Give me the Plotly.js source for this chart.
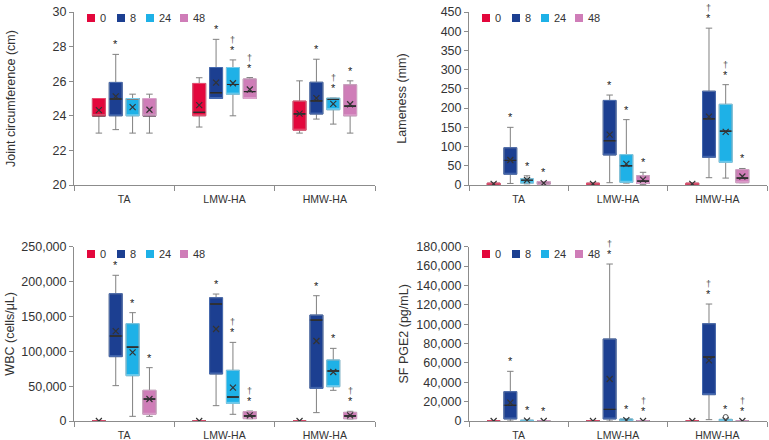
<!DOCTYPE html>
<html>
<head>
<meta charset="utf-8">
<script src="https://cdn.plot.ly/plotly-3.0.1.min.js"></script>
<style>
  html, body { margin: 0; padding: 0; background: #fff; }
  #chart { width: 769px; height: 440px; }
</style>
</head>
<body>
<div id="chart"></div>
<script>
// Categorías y grupos (horas)
const cats = ["TA", "LMW-HA", "HMW-HA"];
const times = ["0", "8", "24", "48"];
const timeColors = ["#E3073C", "#1C3F91", "#1EB1E7", "#CF7DB8"];
const edgeColors = ["#EC4A6E", "#4468B0", "#74CFF0", "#DDA0CC"];

// Filas: 0, 8, 24, 48 h ; columnas: TA, LMW-HA, HMW-HA
// Joint circumference (cm)
const jointLo = [[23, 23.35, 23], [23.2, 25, 23.81], [23, 24, 23.52], [23, 25, 23]];
const jointQ1 = [[24, 24, 23.17], [24, 25, 24.1], [24, 25.25, 24.35], [24, 25, 24]];
const jointMed = [[24, 24.2, 24.11], [24.97, 25.33, 24.86], [25, 25.81, 24.96], [24, 25.4, 24.56]];
const jointQ3 = [[25, 25.87, 24.85], [25.93, 26.79, 25.94], [25, 26.79, 25.02], [25, 26.13, 25.79]];
const jointHi = [[25, 26.2, 26.02], [27.55, 28.42, 27.27], [25.25, 27.23, 25.02], [25.25, 26.21, 26.02]];
const jointMean = [[24.33, 24.62, 24.13], [25.12, 25.92, 25.02], [24.5, 25.88, 24.69], [24.35, 25.52, 24.67]];
const jointSig = [["", "", ""], ["*", "*", "*"], ["", "†*", "†*"], ["", "†*", "*"]];

// Lameness (mm)
const lameLo = [[0, 0, 0], [4, 6, 19], [3, 5, 18], [0, 1, 6]];
const lameQ1 = [[0, 0, 0], [28, 78, 72], [5, 7, 59], [2, 4, 6]];
const lameMed = [[1, 1, 1], [64, 115, 172], [13, 50, 140], [4, 10, 18]];
const lameQ3 = [[5, 5, 5], [97, 220, 244], [16, 79, 210], [9, 24, 40]];
const lameHi = [[5, 5, 5], [150, 234, 408], [24, 170, 261], [9, 33, 43]];
const lameMean = [[3, 3, 3], [65, 131, 178], [13, 55, 138], [5, 14, 22]];
const lameSig = [["", "", ""], ["*", "*", "†*"], ["*", "*", "†*"], ["*", "*", "*"]];

// WBC (cells/μL)
const wbcLo = [[0, 0, 0], [50700, 22000, 12000], [6700, 9600, 44000], [6700, 3300, 2900]];
const wbcQ1 = [[0, 0, 0], [92300, 67400, 46800], [65000, 25300, 49200], [9600, 3400, 3300]];
const wbcMed = [[0, 0, 0], [121900, 167800, 144800], [106000, 34400, 71700], [31500, 7200, 7200]];
const wbcQ3 = [[0, 0, 0], [182600, 176900, 152000], [139600, 72700, 87500], [44000, 13400, 12400]];
const wbcHi = [[0, 0, 0], [209000, 182100, 179700], [155400, 112800, 104200], [76500, 14300, 13900]];
const wbcMean = [[0, 0, 0], [129000, 132000, 114700], [98500, 47800, 70300], [31500, 8100, 8100]];
const wbcSig = [["", "", ""], ["*", "*", "*"], ["*", "†*", "*"], ["*", "†*", "†*"]];

// SF PGE2 (pg/mL)
const pgeLo = [[0, 0, 0], [0, 0, 1400], [0, 0, 0], [0, 0, 0]];
const pgeQ1 = [[0, 0, 0], [2100, 2100, 27200], [0, 300, 300], [0, 0, 0]];
const pgeMed = [[0, 0, 0], [16200, 12000, 66100], [300, 1200, 1000], [0, 0, 0]];
const pgeQ3 = [[0, 0, 0], [30300, 84700, 100500], [900, 2100, 1700], [0, 0, 0]];
const pgeHi = [[0, 0, 0], [51300, 162100, 120800], [900, 2100, 1700], [0, 0, 0]];
const pgeMean = [[0, 0, 0], [18900, 43400, 62600], [400, 900, 800], [0, 0, 0]];
const pgeOutlier = [[null, null, null], [null, null, null], [null, null, 4100], [null, null, null]];
const pgeSig = [["", "", ""], ["*", "†*", "†*"], ["*", "*", "*"], ["*", "†*", "†*"]];

const groupStep = 0.168;
const boxWidth = 0.13;
const axisColor = "#8c8c8c";
const textColor = "#333";
const fontFam = "Liberation Sans, Arial, sans-serif";
const legendOffsets = [13, 43, 72, 106]; // px desde el eje y

const data = [];
const annotations = [];
const shapes = [];

function addPanel(n, lo, q1, med, q3, hi, mean, sig, legendY, outliers) {
  const xa = n === 1 ? "x" : "x" + n;
  const ya = n === 1 ? "y" : "y" + n;
  const base = { type: "box", xaxis: xa, yaxis: ya, width: boxWidth, showlegend: false, hoverinfo: "skip" };

  times.forEach((t, g) => {
    const xpos = cats.map((c, i) => i + (g - 1.5) * groupStep);

    // Caja con bigotes grises
    data.push(Object.assign({}, base, {
      x: xpos, q1: q1[g], median: med[g], q3: q3[g],
      lowerfence: lo[g], upperfence: hi[g],
      whiskerwidth: 0.5,
      fillcolor: timeColors[g],
      line: { color: "#808080", width: 1 },
    }));
    // Mediana oscura
    data.push(Object.assign({}, base, {
      x: xpos, q1: med[g], median: med[g], q3: med[g],
      lowerfence: med[g], upperfence: med[g],
      whiskerwidth: 0,
      fillcolor: "rgba(0,0,0,0)",
      line: { color: "#2b2b2b", width: 1 },
    }));
    // Borde de la caja
    data.push(Object.assign({}, base, {
      x: xpos, q1: q1[g], median: q1[g], q3: q3[g],
      lowerfence: q1[g], upperfence: q3[g],
      whiskerwidth: 0,
      fillcolor: "rgba(0,0,0,0)",
      line: { color: edgeColors[g], width: 1 },
    }));

    // Media (x)
    data.push({
      type: "scatter",
      mode: "markers",
      xaxis: xa,
      yaxis: ya,
      x: xpos,
      y: mean[g],
      marker: {
        symbol: "x-thin-open",
        size: 6,
        color: textColor,
        line: { color: textColor, width: 1.2 },
      },
      showlegend: false,
      hoverinfo: "skip",
    });

    // Valores atípicos
    if (outliers) {
      data.push({
        type: "scatter",
        mode: "markers",
        xaxis: xa,
        yaxis: ya,
        x: xpos,
        y: outliers[g],
        marker: { symbol: "circle-open", size: 5, color: "#555", line: { width: 1 } },
        showlegend: false,
        hoverinfo: "skip",
      });
    }

    // Leyenda
    shapes.push({
      type: "rect",
      xref: xa + " domain",
      yref: "paper",
      xsizemode: "pixel",
      ysizemode: "pixel",
      xanchor: 0,
      yanchor: legendY,
      x0: legendOffsets[g],
      x1: legendOffsets[g] + 8,
      y0: -4,
      y1: 4,
      fillcolor: timeColors[g],
      line: { width: 0 },
    });
    annotations.push({
      xref: xa + " domain",
      yref: "paper",
      x: 0,
      y: legendY,
      xshift: legendOffsets[g] + 11,
      xanchor: "left",
      yanchor: "middle",
      text: t,
      showarrow: false,
      font: { size: 11, color: textColor, family: fontFam },
    });

    // Marcas de significancia
    sig[g].forEach((s, i) => {
      if (!s) return;
      const top = Math.max(hi[g][i], q3[g][i]);
      annotations.push({
        xref: xa,
        yref: ya,
        x: xpos[i],
        y: top,
        text: "*",
        showarrow: false,
        yanchor: "bottom",
        yshift: 3,
        borderpad: 0,
        font: { size: 11, color: "#222", family: fontFam },
      });
      if (s.indexOf("†") >= 0) {
        annotations.push({
          xref: xa,
          yref: ya,
          x: xpos[i],
          y: top,
          text: "†",
          showarrow: false,
          yanchor: "bottom",
          yshift: 14,
          borderpad: 0,
          font: { size: 9, color: "#555", family: fontFam },
        });
      }
    });
  });
}

addPanel(1, jointLo, jointQ1, jointMed, jointQ3, jointHi, jointMean, jointSig, 1 - 18 / 440);
addPanel(2, lameLo, lameQ1, lameMed, lameQ3, lameHi, lameMean, lameSig, 1 - 18 / 440);
addPanel(3, wbcLo, wbcQ1, wbcMed, wbcQ3, wbcHi, wbcMean, wbcSig, 1 - 254 / 440);
addPanel(4, pgeLo, pgeQ1, pgeMed, pgeQ3, pgeHi, pgeMean, pgeSig, 1 - 254 / 440, pgeOutlier);

function xAxis(domain, anchor) {
  return {
    domain: domain,
    anchor: anchor,
    range: [-0.5, 2.5],
    tickmode: "array",
    tickvals: [0, 1, 2],
    ticktext: cats,
    ticks: "",
    ticklabelstandoff: 4,
    tickfont: { size: 10.5, color: textColor, family: fontFam },
    minor: {
      tickmode: "array",
      tickvals: [-0.5, 0.5, 1.5, 2.5],
      ticks: "outside",
      ticklen: 5,
      tickcolor: axisColor,
      showgrid: false,
    },
    showline: true,
    linecolor: axisColor,
    linewidth: 1,
    showgrid: false,
    zeroline: false,
    fixedrange: true,
  };
}

function yAxis(domain, anchor, range, dtick, title, standoff) {
  return {
    domain: domain,
    anchor: anchor,
    range: range,
    dtick: dtick,
    tick0: range[0],
    tickformat: ",",
    ticks: "outside",
    ticklen: 4,
    tickcolor: axisColor,
    tickfont: { size: 12.5, color: textColor, family: fontFam },
    showline: true,
    linecolor: axisColor,
    linewidth: 1,
    showgrid: false,
    zeroline: false,
    title: {
      text: title,
      standoff: standoff,
      font: { size: 12.5, color: textColor, family: fontFam },
    },
    fixedrange: true,
  };
}

const colL = [74 / 769, 375 / 769];
const colR = [469 / 769, 767 / 769];
const rowT = [1 - 185 / 440, 1 - 12 / 440];
const rowB = [1 - 421 / 440, 1 - 246.7 / 440];

const layout = {
  width: 769,
  height: 440,
  margin: { l: 0, r: 0, t: 0, b: 0 },
  paper_bgcolor: "#fff",
  plot_bgcolor: "#fff",
  boxmode: "overlay",
  showlegend: false,
  font: { family: fontFam, color: textColor },
  xaxis: xAxis(colL, "y"),
  yaxis: yAxis(rowT, "x", [20, 30], 2, "Joint circumference (cm)", 34),
  xaxis2: xAxis(colR, "y2"),
  yaxis2: yAxis(rowT, "x2", [0, 450], 50, "Lameness (mm)", 31),
  xaxis3: xAxis(colL, "y3"),
  yaxis3: yAxis(rowB, "x3", [0, 250000], 50000, "WBC (cells/μL)", 3),
  xaxis4: xAxis(colR, "y4"),
  yaxis4: yAxis(rowB, "x4", [0, 180000], 20000, "SF PGE2 (pg/mL)", 4),
  shapes: shapes,
  annotations: annotations,
};

Plotly.newPlot("chart", data, layout, { displayModeBar: false, staticPlot: true });
</script>
</body>
</html>
